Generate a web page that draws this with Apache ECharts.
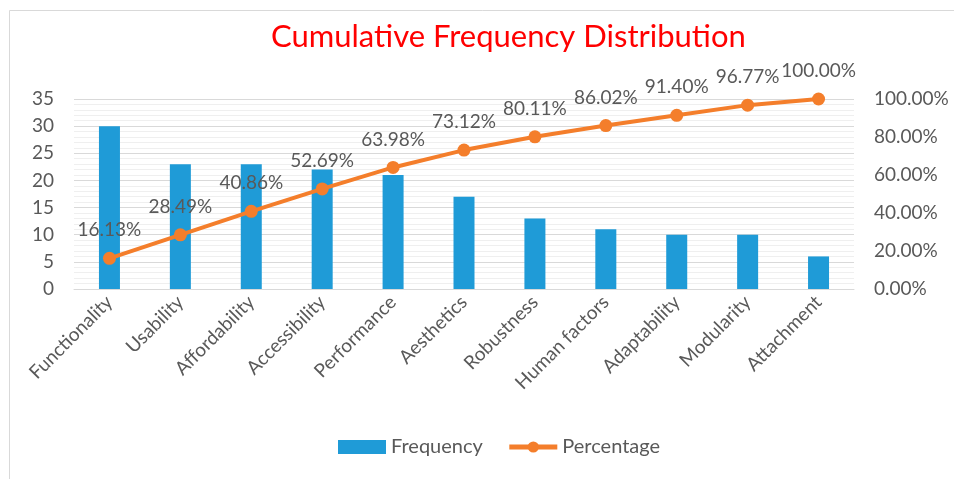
<!DOCTYPE html>
<html>
<head>
<meta charset="utf-8">
<script src="https://cdn.jsdelivr.net/npm/echarts@6/dist/echarts.min.js"></script>
<style>
    html, body { margin: 0; padding: 0; background: #fff; }
    #chart { width: 954px; height: 479px; }
</style>
</head>
<body>
<div id="chart"></div>
<script>
    // categories and values
    const categories = ['Functionality', 'Usability', 'Affordability', 'Accessibility', 'Performance',
        'Aesthetics', 'Robustness', 'Human factors', 'Adaptability', 'Modularity', 'Attachment'];
    const frequency = [30, 23, 23, 22, 21, 17, 13, 11, 10, 10, 6];
    const percentage = [16.13, 28.49, 40.86, 52.69, 63.98, 73.12, 80.11, 86.02, 91.40, 96.77, 100.00];

    const font = 'Lato, "Open Sans", sans-serif';
    const grey = '#595959';

    const chart = echarts.init(document.getElementById('chart'));
    chart.setOption({
        animation: false,
        backgroundColor: '#fff',
        graphic: [{
            type: 'rect',
            shape: {x: 9.5, y: 10.5, width: 960, height: 480},
            style: {fill: 'none', stroke: '#d9d9d9', lineWidth: 1}
        }],
        title: {
            text: 'Cumulative Frequency Distribution',
            left: 266,
            top: 16,
            textStyle: {color: '#ff0000', fontSize: 31, fontWeight: 'normal', fontFamily: font}
        },
        legend: {
            bottom: 17,
            left: 333,
            itemWidth: 48,
            itemHeight: 14,
            itemGap: 24,
            textStyle: {color: grey, fontSize: 20, fontFamily: font},
            data: [
                {name: 'Frequency', icon: 'rect'},
                {name: 'Percentage', lineStyle: {width: 5}}
            ]
        },
        grid: {left: 74, right: 100, top: 99, bottom: 190},
        xAxis: {
            type: 'category',
            data: categories,
            axisLine: {lineStyle: {color: '#d9d9d9'}},
            axisTick: {show: false},
            axisLabel: {rotate: 45, color: grey, fontSize: 19, fontFamily: font, margin: 10, interval: 0}
        },
        yAxis: [{
            type: 'value',
            min: 0,
            max: 35,
            interval: 5,
            axisLine: {show: false},
            axisTick: {show: false},
            axisLabel: {color: grey, fontSize: 19, fontFamily: font, margin: 20},
            splitLine: {lineStyle: {color: '#d9d9d9', width: 1}},
            minorTick: {show: false, splitNumber: 5},
            minorSplitLine: {show: true, lineStyle: {color: '#efefef'}}
        }, {
            type: 'value',
            min: 0,
            max: 100,
            interval: 20,
            axisLine: {show: false},
            axisTick: {show: false},
            splitLine: {show: false},
            axisLabel: {
                color: grey, fontSize: 19, fontFamily: font, margin: 20,
                formatter: v => v.toFixed(2) + '%'
            }
        }],
        series: [{
            name: 'Frequency',
            type: 'bar',
            data: frequency,
            barWidth: 21,
            itemStyle: {color: '#1f9bd7'}
        }, {
            name: 'Percentage',
            type: 'line',
            yAxisIndex: 1,
            data: percentage,
            symbol: 'circle',
            symbolSize: 13,
            lineStyle: {color: '#f47e2b', width: 4},
            itemStyle: {color: '#f47e2b'},
            label: {
                show: true,
                position: 'top',
                distance: 12,
                color: grey,
                fontSize: 19,
                fontFamily: font,
                formatter: p => p.value.toFixed(2) + '%'
            }
        }]
    });
</script>
</body>
</html>
